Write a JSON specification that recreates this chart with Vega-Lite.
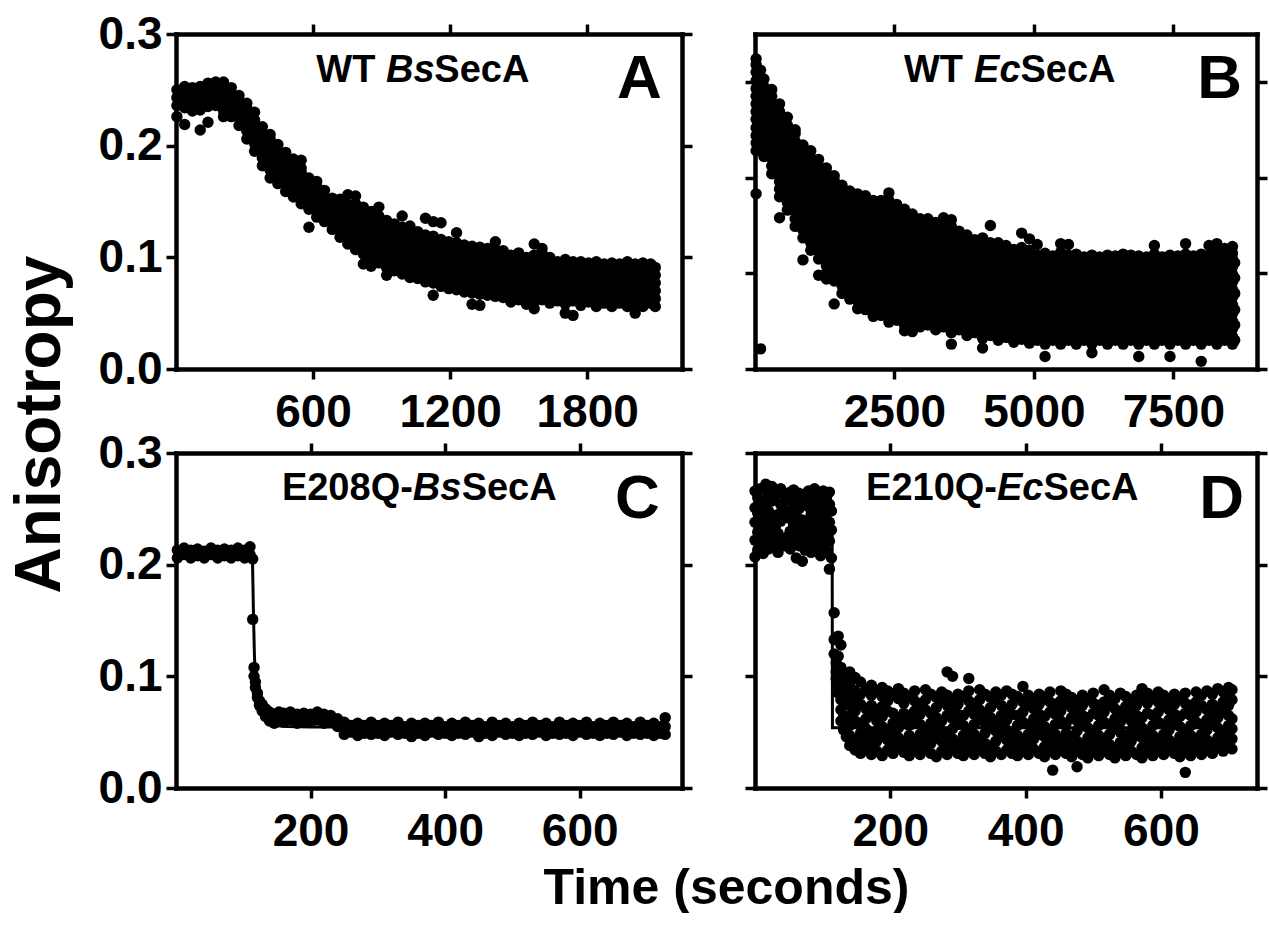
{
"$schema":"https://vega.github.io/schema/vega-lite/v6.json",
"padding":{"left":8,"top":11,"right":0,"bottom":0},
"autosize":{"type":"pad"},
"background":"white",
"config":{
"view":{"stroke":null},
"axis":{"domainColor":"#000","domainWidth":4.5,"domainCap":"square","tickColor":"#000","tickWidth":3.5,"tickSize":10,"tickCap":"butt","grid":false,"labelFont":"Liberation Sans","labelFontWeight":"bold","labelFontSize":46,"labelColor":"#000","labelFlush":false,"labelOverlap":false,"titleFont":"Liberation Sans","titleFontWeight":"bold","titleColor":"#000"},
"text":{"font":"Liberation Sans","fontWeight":"bold","color":"#000","baseline":"alphabetic"}
},
"columns":2,
"spacing":{"row":84,"column":73},
"bounds":"flush",
"concat":[
{
"width":506,"height":335,
"resolve":{"axis":{"x":"independent","y":"independent"}},
"layer":[
{"data":{"values":"t,v1,v2,v3,v4,v5,v6,v7,v8,v9\n4,.226,.236,.243,.250\n38,.219,.234,.240,.247,.253\n72,.231,.238,.245,.252\n106,.214,.232,.239,.246,.253\n140,.221,.235,.242,.249,.256\n174,.236,.243,.250,.257\n208,.226,.231,.238,.245,.252,.257\n242,.226,.233,.240,.247,.252\n276,.218,.225,.232,.239,.245\n310,.206,.213,.220,.227,.234,.238\n344,.195,.202,.209,.216,.223,.230\n378,.182,.189,.196,.203,.210,.217\n412,.171,.178,.185,.192,.199,.206,.210\n446,.166,.173,.180,.187,.194,.201\n480,.159,.166,.173,.180,.187,.194\n514,.154,.161,.168,.175,.182,.188\n548,.148,.155,.162,.169,.176,.180,.187\n582,.127,.143,.150,.157,.164,.171\n616,.136,.143,.150,.157,.164,.168\n650,.132,.139,.146,.153,.160\n684,.125,.132,.139,.146,.153\n718,.118,.125,.132,.139,.146,.152\n752,.112,.119,.126,.133,.140,.147,.156\n786,.107,.114,.121,.128,.135,.142,.148,.155\n820,.094,.103,.110,.117,.124,.131,.138,.145\n854,.092,.100,.107,.114,.121,.128,.135,.141\n888,.095,.102,.109,.116,.123,.130,.137,.145\n922,.084,.091,.098,.105,.112,.119,.126,.133\n956,.088,.095,.102,.109,.116,.123,.130\n990,.085,.092,.099,.106,.113,.120,.127,.137\n1024,.082,.089,.096,.103,.110,.117,.124,.128\n1058,.081,.088,.095,.102,.109,.116,.123\n1092,.078,.085,.092,.099,.106,.113,.120,.135\n1126,.066,.077,.084,.091,.098,.105,.112,.119,.132\n1160,.074,.081,.088,.095,.102,.109,.116,.131\n1194,.072,.079,.086,.093,.100,.107,.114\n1228,.071,.078,.085,.092,.099,.106,.113,.122\n1262,.069,.076,.083,.090,.097,.104,.111\n1296,.058,.068,.075,.082,.089,.096,.103,.110\n1330,.057,.067,.074,.081,.088,.095,.102,.109\n1364,.066,.073,.080,.087,.094,.101,.108\n1398,.065,.072,.079,.086,.093,.100,.107,.114\n1432,.064,.071,.078,.085,.092,.099,.106\n1466,.060,.067,.074,.081,.088,.095,.102\n1500,.062,.069,.076,.083,.090,.097,.104\n1534,.058,.065,.072,.079,.086,.093,.100\n1568,.054,.060,.067,.074,.081,.088,.095,.102,.112\n1602,.062,.069,.076,.083,.090,.097,.104,.108\n1636,.059,.066,.073,.080,.087,.094,.100\n1670,.061,.068,.075,.082,.089,.096\n1704,.050,.058,.065,.072,.079,.086,.093,.098\n1738,.048,.061,.068,.075,.082,.089,.096\n1772,.057,.064,.071,.078,.085,.092,.096\n1806,.060,.067,.074,.081,.088,.095\n1840,.056,.063,.070,.077,.084,.091,.096\n1874,.059,.066,.073,.080,.087,.094\n1908,.056,.063,.070,.077,.084,.091,.095\n1942,.059,.066,.073,.080,.087,.094\n1976,.056,.063,.070,.077,.084,.091,.096\n2010,.050,.059,.066,.073,.080,.087,.094\n2044,.056,.063,.070,.077,.084,.091,.095\n2078,.059,.066,.073,.080,.087,.094\n2098,.056,.063,.070,.077,.084,.091","format":{"type":"csv","parse":{"t":"number","v1":"number","v2":"number","v3":"number","v4":"number","v5":"number","v6":"number","v7":"number","v8":"number","v9":"number"}}},
"transform":[{"fold":["v1","v2","v3","v4","v5","v6","v7","v8","v9"],"as":["k","a"]},{"filter":"datum.a !== null"}],
"mark":{"type":"circle","size":130,"color":"#000","opacity":1},
"encoding":{
"x":{"field":"t","type":"quantitative","scale":{"domain":[0,2215],"nice":false,"zero":false},"axis":{"orient":"bottom","values":[600,1200,1800],"format":"d","labelPadding":11,"title":null}},
"y":{"field":"a","type":"quantitative","scale":{"domain":[0,0.3],"nice":false,"zero":false},"axis":{"orient":"left","values":[0,0.1,0.2,0.3],"format":".1f","labelPadding":4,"title":"Anisotropy","titleFontSize":64,"titleAngle":270,"titleBaseline":"alphabetic","titleAlign":"center","titleX":-117,"titleY":390}}}},
{"data":{"values":[{}]},"mark":{"type":"text","fontSize":62,"align":"right"},
"encoding":{"x":{"datum":2127,"type":"quantitative","axis":{"orient":"top","values":[600,1200,1800],"labels":false,"title":null}},"y":{"datum":0.2425,"type":"quantitative","axis":{"orient":"right","values":[0,0.1,0.2,0.3],"labels":false,"title":null}},"text":{"value":"A"}}},
{"data":{"values":[{}]},"mark":{"type":"text","fontSize":38,"align":"right"},
"encoding":{"x":{"datum":873,"type":"quantitative","axis":null},"y":{"datum":0.2569,"type":"quantitative","axis":null},"text":{"value":"WT"}}},
{"data":{"values":[{}]},"mark":{"type":"text","fontSize":38,"align":"left","fontStyle":"italic"},
"encoding":{"x":{"datum":919,"type":"quantitative","axis":null},"y":{"datum":0.2569,"type":"quantitative","axis":null},"text":{"value":"Bs"}}},
{"data":{"values":[{}]},"mark":{"type":"text","fontSize":38,"align":"left"},
"encoding":{"x":{"datum":1131,"type":"quantitative","axis":null},"y":{"datum":0.2569,"type":"quantitative","axis":null},"text":{"value":"SecA"}}}
]
},
{
"width":502,"height":335,
"resolve":{"axis":{"x":"independent","y":"independent"}},
"layer":[
{"data":{"values":"t,v1,v2,v3,v4,v5,v6,v7,v8,v9,v10,v11,v12,v13,v14,v15,v16,v17,v18\n20,.183,.228,.236,.244,.252,.261,.269,.277,.285,.293,.301,.310,.318,.324\n100,.021,.232,.248,.264,.280,.296,.312\n160,.222,.230,.238,.246,.254,.263,.271,.279,.287,.295,.303\n300,.204,.212,.220,.228,.236,.245,.253,.261,.269,.277,.285,.292\n440,.158,.180,.188,.196,.204,.212,.221,.229,.237,.245,.253,.261,.269,.277\n580,.166,.174,.182,.190,.198,.207,.215,.223,.231,.239,.247,.255,.263\n720,.149,.157,.165,.173,.181,.190,.198,.206,.214,.222,.230,.238,.246,.250\n860,.114,.137,.145,.153,.161,.169,.178,.186,.194,.202,.210,.218,.226,.234\n1000,.124,.132,.140,.148,.156,.165,.173,.181,.189,.197,.205,.213,.221,.228\n1140,.098,.115,.123,.131,.139,.147,.156,.164,.172,.180,.188,.196,.204,.212,.219\n1280,.094,.100,.108,.116,.124,.132,.141,.149,.157,.165,.173,.181,.189,.197,.205,.210\n1420,.068,.092,.100,.108,.116,.124,.133,.141,.149,.157,.165,.173,.181,.189,.197,.202\n1560,.079,.087,.095,.103,.111,.120,.128,.136,.144,.152,.160,.168,.176,.184,.192\n1700,.073,.081,.089,.097,.105,.114,.122,.130,.138,.146,.154,.162,.170,.178,.186\n1840,.063,.071,.079,.087,.095,.104,.112,.120,.128,.136,.144,.152,.160,.168,.176,.183\n1980,.062,.070,.078,.086,.094,.103,.111,.119,.127,.135,.143,.151,.159,.167,.175,.181\n2120,.055,.063,.071,.079,.087,.096,.104,.112,.120,.128,.136,.144,.152,.160,.168,.176\n2260,.056,.064,.072,.080,.088,.097,.105,.113,.121,.129,.137,.145,.153,.161,.169,.176\n2400,.049,.057,.065,.073,.081,.090,.098,.106,.114,.122,.130,.138,.146,.154,.162,.170,.176,.184\n2540,.051,.059,.067,.075,.083,.092,.100,.108,.116,.124,.132,.140,.148,.156,.164,.172\n2680,.040,.046,.054,.062,.070,.078,.087,.095,.103,.111,.119,.127,.135,.143,.151,.159,.167\n2820,.039,.049,.057,.065,.073,.081,.090,.098,.106,.114,.122,.130,.138,.146,.154,.162\n2960,.044,.052,.060,.068,.076,.085,.093,.101,.109,.117,.125,.133,.141,.149,.157\n3100,.046,.054,.062,.070,.078,.087,.095,.103,.111,.119,.127,.135,.143,.151,.157\n3240,.041,.049,.057,.065,.073,.082,.090,.098,.106,.114,.122,.130,.138,.146,.153\n3380,.044,.052,.060,.068,.076,.085,.093,.101,.109,.117,.125,.133,.141,.149,.158\n3520,.026,.038,.046,.054,.062,.070,.079,.087,.095,.103,.111,.119,.127,.135,.143,.149,.156\n3660,.041,.049,.057,.065,.073,.082,.090,.098,.106,.114,.122,.130,.138,.144\n3800,.035,.043,.051,.059,.067,.076,.084,.092,.100,.108,.116,.124,.132,.140\n3940,.038,.046,.054,.062,.070,.079,.087,.095,.103,.111,.119,.127,.135\n4080,.022,.032,.040,.048,.056,.064,.073,.081,.089,.097,.105,.113,.121,.129,.137\n4220,.035,.043,.051,.059,.067,.076,.084,.092,.100,.108,.116,.124,.132,.150\n4360,.030,.038,.046,.054,.062,.071,.079,.087,.095,.103,.111,.119,.127,.132\n4500,.033,.041,.049,.057,.065,.074,.082,.090,.098,.106,.114,.122,.129\n4640,.028,.036,.044,.052,.060,.069,.077,.085,.093,.101,.109,.117,.125\n4780,.031,.039,.047,.055,.063,.072,.080,.088,.096,.104,.112,.120,.127,.142\n4920,.027,.035,.043,.051,.059,.068,.076,.084,.092,.100,.108,.116,.124,.136\n5060,.030,.038,.046,.054,.062,.071,.079,.087,.095,.103,.111,.119,.130\n5200,.013,.026,.034,.042,.050,.058,.067,.075,.083,.091,.099,.107,.115,.121\n5340,.030,.038,.046,.054,.062,.071,.079,.087,.095,.103,.111,.118\n5480,.026,.034,.042,.050,.058,.067,.075,.083,.091,.099,.107,.115,.122,.131\n5620,.030,.038,.046,.054,.062,.071,.079,.087,.095,.103,.111,.119,.130\n5760,.026,.034,.042,.050,.058,.067,.075,.083,.091,.099,.107,.115,.120\n5900,.030,.038,.046,.054,.062,.071,.079,.087,.095,.103,.111,.117\n6040,.017,.026,.034,.042,.050,.058,.067,.075,.083,.091,.099,.107,.115,.119\n6180,.030,.038,.046,.054,.062,.071,.079,.087,.095,.103,.111,.117\n6320,.026,.034,.042,.050,.058,.067,.075,.083,.091,.099,.107,.115,.119\n6460,.030,.038,.046,.054,.062,.071,.079,.087,.095,.103,.111,.118\n6600,.026,.034,.042,.050,.058,.067,.075,.083,.091,.099,.107,.115,.120\n6740,.030,.038,.046,.054,.062,.071,.079,.087,.095,.103,.111,.119\n6880,.013,.026,.034,.042,.050,.058,.067,.075,.083,.091,.099,.107,.115,.118\n7020,.030,.038,.046,.054,.062,.071,.079,.087,.095,.103,.111,.117\n7160,.026,.034,.042,.050,.058,.067,.075,.083,.091,.099,.107,.115,.120,.129\n7300,.030,.038,.046,.054,.062,.071,.079,.087,.095,.103,.111,.117\n7440,.013,.026,.034,.042,.050,.058,.067,.075,.083,.091,.099,.107,.115,.119\n7580,.030,.038,.046,.054,.062,.071,.079,.087,.095,.103,.111,.118\n7720,.026,.034,.042,.050,.058,.067,.075,.083,.091,.099,.107,.115,.120,.131\n7860,.030,.038,.046,.054,.062,.071,.079,.087,.095,.103,.111,.118\n8000,.008,.026,.034,.042,.050,.058,.067,.075,.083,.091,.099,.107,.115,.120\n8140,.030,.038,.046,.054,.062,.071,.079,.087,.095,.103,.111,.119,.129\n8280,.026,.034,.042,.050,.058,.067,.075,.083,.091,.099,.107,.115,.122,.131\n8420,.030,.038,.046,.054,.062,.071,.079,.087,.095,.103,.111,.119,.126\n8560,.026,.034,.042,.050,.058,.067,.075,.083,.091,.099,.107,.115,.121,.128\n8600,.030,.046,.062,.079,.095,.111","format":{"type":"csv","parse":{"t":"number","v1":"number","v2":"number","v3":"number","v4":"number","v5":"number","v6":"number","v7":"number","v8":"number","v9":"number","v10":"number","v11":"number","v12":"number","v13":"number","v14":"number","v15":"number","v16":"number","v17":"number","v18":"number"}}},
"transform":[{"fold":["v1","v2","v3","v4","v5","v6","v7","v8","v9","v10","v11","v12","v13","v14","v15","v16","v17","v18"],"as":["k","a"]},{"filter":"datum.a !== null"}],
"mark":{"type":"circle","size":130,"color":"#000","opacity":1},
"encoding":{
"x":{"field":"t","type":"quantitative","scale":{"domain":[0,9000],"nice":false,"zero":false},"axis":{"orient":"bottom","values":[2500,5000,7500],"format":"d","labelPadding":11,"title":null}},
"y":{"field":"a","type":"quantitative","scale":{"domain":[0,0.35],"nice":false,"zero":false},"axis":{"orient":"left","values":[0,0.1,0.2,0.3],"labels":false,"title":null}}}},
{"data":{"values":[{}]},"mark":{"type":"text","fontSize":62,"align":"right"},
"encoding":{"x":{"datum":8731,"type":"quantitative","axis":{"orient":"top","values":[2500,5000,7500],"labels":false,"title":null}},"y":{"datum":0.2831,"type":"quantitative","axis":{"orient":"right","values":[0,0.1,0.2,0.3],"labels":false,"title":null}},"text":{"value":"B"}}},
{"data":{"values":[{}]},"mark":{"type":"text","fontSize":38,"align":"right"},
"encoding":{"x":{"datum":3729,"type":"quantitative","axis":null},"y":{"datum":0.3,"type":"quantitative","axis":null},"text":{"value":"WT"}}},
{"data":{"values":[{}]},"mark":{"type":"text","fontSize":38,"align":"left","fontStyle":"italic"},
"encoding":{"x":{"datum":3927,"type":"quantitative","axis":null},"y":{"datum":0.3,"type":"quantitative","axis":null},"text":{"value":"Ec"}}},
{"data":{"values":[{}]},"mark":{"type":"text","fontSize":38,"align":"left"},
"encoding":{"x":{"datum":4760,"type":"quantitative","axis":null},"y":{"datum":0.3,"type":"quantitative","axis":null},"text":{"value":"SecA"}}}
]
},
{
"width":506,"height":335,
"resolve":{"axis":{"x":"independent","y":"independent"}},
"layer":[
{"data":{"values":"t,v1,v2,v3\n2,.206,.213\n12,.209,.215\n22,.206,.213\n32,.208,.214\n42,.206,.212\n52,.209,.215\n62,.206,.213\n72,.208,.214\n82,.206,.213\n92,.208,.215\n102,.206,.213\n110,.209,.216\n114,.205,.151\n116,.108,.100\n118,.095,.090\n121,.085,.081\n124,.078,.074\n128,.075,.069\n133,.071,.064\n139,.060,.068\n146,.058,.066\n153,.061,.068\n160,.059,.067\n170,.061,.068\n180,.058,.066\n190,.060,.067\n200,.059,.066\n210,.061,.068\n220,.058,.066\n230,.059,.065\n240,.055,.062\n250,.048,.054,.059\n260,.050,.056\n270,.047,.053,.058\n280,.049,.056\n290,.048,.054,.059\n300,.049,.056\n310,.047,.053,.058\n320,.050,.056\n330,.048,.054,.059\n340,.049,.055\n350,.046,.052,.058\n360,.049,.056\n370,.047,.053,.058\n380,.050,.056\n390,.048,.054,.059\n400,.049,.055\n410,.047,.053,.058\n420,.049,.056\n430,.048,.054,.059\n440,.050,.056\n450,.046,.052,.058\n460,.049,.055\n470,.047,.053,.059\n480,.050,.056\n490,.048,.054,.058\n500,.049,.055\n510,.047,.053,.058\n520,.049,.056\n530,.048,.054,.059\n540,.050,.056\n550,.047,.053,.058\n560,.049,.055\n570,.048,.054,.059\n580,.049,.056\n590,.047,.053,.058\n600,.050,.056\n610,.048,.054,.059\n620,.049,.055\n630,.047,.053,.058\n640,.049,.056\n650,.048,.054,.059\n660,.050,.056\n670,.047,.053,.058\n680,.049,.055\n690,.048,.054,.059\n700,.049,.056\n710,.047,.053,.058\n720,.049,.055\n727,.048,.055,.063","format":{"type":"csv","parse":{"t":"number","v1":"number","v2":"number","v3":"number"}}},
"transform":[{"fold":["v1","v2","v3"],"as":["k","a"]},{"filter":"datum.a !== null"}],
"mark":{"type":"circle","size":130,"color":"#000","opacity":1},
"encoding":{
"x":{"field":"t","type":"quantitative","scale":{"domain":[0,752],"nice":false,"zero":false},"axis":{"orient":"bottom","values":[200,400,600],"format":"d","labelPadding":11,"title":"Time (seconds)","titleFontSize":50,"titleAngle":0,"titleBaseline":"alphabetic","titleAlign":"center","titleX":550,"titleY":115}},
"y":{"field":"a","type":"quantitative","scale":{"domain":[0,0.3],"nice":false,"zero":false},"axis":{"orient":"left","values":[0,0.1,0.2,0.3],"format":".1f","labelPadding":4,"title":null}}}},
{"data":{"values":[{"t":0,"a":0.2095},{"t":113.5,"a":0.2095},{"t":115,"a":0.16},{"t":116.5,"a":0.12},{"t":118,"a":0.098},{"t":120,"a":0.085},{"t":123,"a":0.074},{"t":127,"a":0.066},{"t":132,"a":0.061},{"t":140,"a":0.0575},{"t":150,"a":0.0558},{"t":165,"a":0.055},{"t":200,"a":0.0546},{"t":727,"a":0.0545}]},
"mark":{"type":"line","color":"#000","strokeWidth":3},
"encoding":{"x":{"field":"t","type":"quantitative","axis":null},"y":{"field":"a","type":"quantitative","axis":null}}},
{"data":{"values":[{}]},"mark":{"type":"text","fontSize":62,"align":"right"},
"encoding":{"x":{"datum":719,"type":"quantitative","axis":{"orient":"top","values":[200,400,600],"labels":false,"title":null}},"y":{"datum":0.2418,"type":"quantitative","axis":{"orient":"right","values":[0,0.1,0.2,0.3],"labels":false,"title":null}},"text":{"value":"C"}}},
{"data":{"values":[{}]},"mark":{"type":"text","fontSize":38,"align":"right"},
"encoding":{"x":{"datum":352,"type":"quantitative","axis":null},"y":{"datum":0.258,"type":"quantitative","axis":null},"text":{"value":"E208Q-"}}},
{"data":{"values":[{}]},"mark":{"type":"text","fontSize":38,"align":"left","fontStyle":"italic"},
"encoding":{"x":{"datum":352,"type":"quantitative","axis":null},"y":{"datum":0.258,"type":"quantitative","axis":null},"text":{"value":"Bs"}}},
{"data":{"values":[{}]},"mark":{"type":"text","fontSize":38,"align":"left"},
"encoding":{"x":{"datum":424.5,"type":"quantitative","axis":null},"y":{"datum":0.258,"type":"quantitative","axis":null},"text":{"value":"SecA"}}}
]
},
{
"width":502,"height":335,
"resolve":{"axis":{"x":"independent","y":"independent"}},
"layer":[
{"data":{"values":"t,v1,v2,v3,v4,v5,v6,v7,v8\n0,.207,.222,.238,.251,.266\n4,.213,.229,.246,.260\n8,.218,.235,.252,.268\n12,.210,.226,.243,.258\n16,.220,.236,.255,.272\n20,.214,.231,.248,.264\n25,.224,.240,.257,.270\n30,.216,.233,.262\n34,.211,.228,.245,.266\n38,.221,.239,.254,.268\n43,.217,.249,.263\n48,.225,.242,.258\n52,.214,.230,.247,.265\n57,.220,.236,.253,.267\n61,.206,.226,.243,.259\n65,.217,.233,.250,.264\n70,.203,.222,.240,.256\n74,.213,.230,.262\n79,.219,.236,.252,.266\n83,.211,.228,.245,.260\n88,.223,.239,.255,.268\n92,.215,.232,.249,.264\n97,.208,.226,.243,.258\n101,.219,.235,.251,.266\n106,.212,.229,.246,.261\n110,.196,.221,.238,.254,.265\n113,.206,.231,.248\n117,.157,.133,.120\n120,.112,.104,.098\n123,.136,.118,.092,.085\n127,.128,.108,.079,.070,.060\n131,.100,.088,.064,.052\n135,.095,.075,.060,.046\n140,.038,.047,.056,.065,.074,.083,.092,.104\n148,.034,.043,.060,.069,.078,.087,.099\n156,.031,.040,.049,.058,.075,.084,.095\n164,.035,.044,.053,.062,.071,.088\n172,.030,.039,.048,.065,.074,.083,.092\n180,.033,.042,.051,.060,.069,.086\n188,.029,.046,.055,.064,.073,.082,.090\n196,.034,.043,.052,.069,.078,.087\n204,.031,.040,.049,.058,.067,.084\n212,.036,.045,.054,.063,.080,.089\n220,.032,.041,.058,.067,.076,.085\n228,.029,.038,.047,.056,.065,.082\n236,.034,.043,.060,.069,.078,.087\n244,.030,.039,.048,.057,.066,.075\n252,.035,.044,.053,.070,.079,.088\n260,.031,.040,.049,.058,.067,.084\n268,.028,.045,.054,.063,.072,.081\n276,.033,.042,.051,.060,.077,.086\n284,.030,.039,.048,.065,.074,.083,.104\n292,.035,.044,.053,.062,.071,.080,.100\n300,.031,.040,.057,.066,.075,.084\n308,.029,.038,.047,.056,.065,.082\n316,.034,.043,.052,.069,.078,.087,.098\n324,.030,.039,.048,.057,.066,.075\n332,.035,.044,.061,.070,.079,.088\n340,.031,.040,.049,.058,.067,.084\n348,.028,.037,.054,.063,.072,.081\n356,.033,.042,.051,.060,.077,.086\n364,.030,.047,.056,.065,.074,.083\n372,.034,.043,.052,.061,.070,.087\n380,.031,.040,.049,.066,.075,.084\n388,.029,.038,.047,.056,.065,.082\n396,.033,.042,.059,.068,.077,.091\n404,.030,.039,.048,.057,.074,.083\n412,.035,.044,.053,.062,.071,.080\n420,.031,.048,.057,.066,.075,.084\n428,.028,.037,.046,.055,.064,.081\n436,.033,.042,.051,.068,.077,.086\n440,.016\n444,.030,.039,.048,.057,.066,.075\n452,.034,.043,.060,.069,.078,.087\n460,.031,.040,.049,.058,.075,.084\n468,.028,.037,.046,.063,.072,.081\n476,.019,.033,.042,.051,.060,.069,.078\n484,.030,.039,.056,.065,.074,.083\n492,.027,.036,.045,.054,.063,.080\n500,.032,.041,.050,.067,.076,.085\n508,.029,.038,.047,.056,.065,.074\n516,.033,.042,.059,.068,.077,.088\n524,.030,.039,.048,.057,.074,.083\n532,.027,.036,.053,.062,.071,.080\n540,.032,.041,.050,.059,.068,.085\n548,.029,.038,.047,.064,.073,.082\n556,.033,.042,.051,.060,.069,.078\n564,.030,.047,.056,.065,.074,.083\n572,.027,.036,.045,.054,.063,.080,.089\n580,.032,.041,.050,.067,.076,.085\n588,.029,.038,.047,.056,.065,.082\n596,.033,.042,.059,.068,.077,.086\n604,.030,.039,.048,.057,.074,.083\n612,.034,.043,.052,.061,.070,.079\n620,.031,.040,.057,.066,.075,.084\n628,.028,.037,.046,.055,.064,.081\n636,.014,.032,.041,.050,.067,.076,.085\n644,.029,.038,.047,.056,.065,.074\n652,.033,.042,.059,.068,.077,.086\n660,.030,.039,.048,.057,.074,.083\n668,.034,.043,.052,.061,.070,.087\n676,.031,.040,.057,.066,.075,.084\n684,.036,.045,.054,.063,.072,.089\n692,.033,.042,.051,.068,.077,.086\n700,.038,.047,.056,.065,.074,.083,.090\n705,.035,.044,.053,.062,.079,.088","format":{"type":"csv","parse":{"t":"number","v1":"number","v2":"number","v3":"number","v4":"number","v5":"number","v6":"number","v7":"number","v8":"number"}}},
"transform":[{"fold":["v1","v2","v3","v4","v5","v6","v7","v8"],"as":["k","a"]},{"filter":"datum.a !== null"}],
"mark":{"type":"circle","size":130,"color":"#000","opacity":1},
"encoding":{
"x":{"field":"t","type":"quantitative","scale":{"domain":[0,742],"nice":false,"zero":false},"axis":{"orient":"bottom","values":[200,400,600],"format":"d","labelPadding":11,"title":null}},
"y":{"field":"a","type":"quantitative","scale":{"domain":[0,0.3],"nice":false,"zero":false},"axis":{"orient":"left","values":[0,0.1,0.2,0.3],"labels":false,"title":null}}}},
{"data":{"values":[{"t":0,"a":0.24},{"t":114,"a":0.24},{"t":114.5,"a":0.054},{"t":706,"a":0.054}]},
"mark":{"type":"line","color":"#000","strokeWidth":3},
"encoding":{"x":{"field":"t","type":"quantitative","axis":null},"y":{"field":"a","type":"quantitative","axis":null}}},
{"data":{"values":[{}]},"mark":{"type":"text","fontSize":62,"align":"right"},
"encoding":{"x":{"datum":723,"type":"quantitative","axis":{"orient":"top","values":[200,400,600],"labels":false,"title":null}},"y":{"datum":0.2418,"type":"quantitative","axis":{"orient":"right","values":[0,0.1,0.2,0.3],"labels":false,"title":null}},"text":{"value":"D"}}},
{"data":{"values":[{}]},"mark":{"type":"text","fontSize":38,"align":"right"},
"encoding":{"x":{"datum":357.7,"type":"quantitative","axis":null},"y":{"datum":0.258,"type":"quantitative","axis":null},"text":{"value":"E210Q-"}}},
{"data":{"values":[{}]},"mark":{"type":"text","fontSize":38,"align":"left","fontStyle":"italic"},
"encoding":{"x":{"datum":357.7,"type":"quantitative","axis":null},"y":{"datum":0.258,"type":"quantitative","axis":null},"text":{"value":"Ec"}}},
{"data":{"values":[{}]},"mark":{"type":"text","fontSize":38,"align":"left"},
"encoding":{"x":{"datum":426.4,"type":"quantitative","axis":null},"y":{"datum":0.258,"type":"quantitative","axis":null},"text":{"value":"SecA"}}}
]
}
]
}
